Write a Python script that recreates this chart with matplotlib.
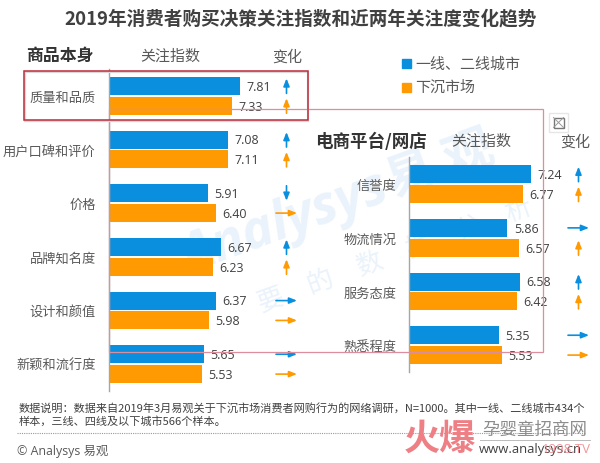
import matplotlib
matplotlib.use("Agg")
import matplotlib.pyplot as plt
from matplotlib.patches import Rectangle

plt.rcParams['font.family'] = ['Noto Sans CJK SC', 'DejaVu Sans']

product_cats = ['质量和品质', '用户口碑和评价', '价格', '品牌知名度', '设计和颜值', '新颖和流行度']
product_tier12 = [7.81, 7.08, 5.91, 6.67, 6.37, 5.65]
product_lower = [7.33, 7.11, 6.40, 6.23, 5.98, 5.53]
product_tier12_trend = ['up', 'up', 'down', 'up', 'flat', 'flat']
product_lower_trend = ['up', 'up', 'flat', 'up', 'flat', 'flat']

shop_cats = ['信誉度', '物流情况', '服务态度', '熟悉程度']
shop_tier12 = [7.24, 5.86, 6.58, 5.35]
shop_lower = [6.77, 6.57, 6.42, 5.53]
shop_tier12_trend = ['up', 'flat', 'up', 'flat']
shop_lower_trend = ['up', 'up', 'up', 'flat']

series_names = ['一线、二线城市', '下沉市场']
BLUE = '#0A8FDF'
ORANGE = '#FF9A02'
DARK = '#404040'
LABEL = '#595959'
LATIN = ['Open Sans', 'Noto Sans CJK SC']

W, H = 600, 464
fig = plt.figure(figsize=(W / 100, H / 100), dpi=100, facecolor='white')


def canvas(z):
    a = fig.add_axes([0, 0, 1, 1], zorder=z)
    a.set_xlim(0, W)
    a.set_ylim(H, 0)
    a.axis('off')
    a.patch.set_alpha(0)
    return a


ov = canvas(0)
top = canvas(5)

# faint background watermarks
wm = dict(color='#EAF3FB', rotation=20, ha='center', va='center')
ov.text(285, 225, 'Analysys', fontsize=38, fontweight='bold', style='italic',
        family=LATIN, **wm)
ov.text(440, 165, '易 观', fontsize=36, fontweight='bold', **wm)
ov.text(395, 255, '要\u3000的\u3000数\u3000据\u3000分\u3000析', fontsize=19, **wm)


def panel(left, y_top, y_bot, cats, a, b, ta, tb, arrow_x):
    ax = fig.add_axes([left / W, 1 - y_bot / H, 167.5 / W, (y_bot - y_top) / H], zorder=2)
    ax.patch.set_alpha(0)
    n = len(cats)
    ys = list(range(n))
    ax.barh([y - 0.185 for y in ys], a, height=0.335, color=BLUE)
    ax.barh([y + 0.185 for y in ys], b, height=0.335, color=ORANGE)
    ax.set_xlim(0, 10)
    ax.set_ylim(n - 0.5, -0.5)
    ax.set_yticks(ys, cats, fontsize=9.5, color=LABEL)
    ax.set_xticks([])
    ax.tick_params(axis='y', length=0, pad=9.5)
    for s in ['top', 'right', 'bottom']:
        ax.spines[s].set_visible(False)
    ax.spines['left'].set_color('#A6A6A6')
    ax.spines['left'].set_linewidth(1.0)
    for off, vals, trends, col in ((-0.185, a, ta, BLUE), (0.185, b, tb, ORANGE)):
        for y, v, t in zip(ys, vals, trends):
            yc = y + off
            ax.annotate(f'{v:.2f}', (v, yc), xytext=(4.6, -0.3), textcoords='offset points',
                        fontsize=8.9, family=LATIN, color=DARK,
                        va='center', ha='left', annotation_clip=False)
            if t == 'flat':
                s, e = (-10.5, 0), (10.5, 0)
            elif t == 'up':
                s, e = (0, -7.5), (0, 7.5)
            else:
                s, e = (0, 7.5), (0, -7.5)
            ax.annotate('', xy=(arrow_x + e[0] / 16.75, yc - e[1] / 53.7),
                        xytext=(arrow_x + s[0] / 16.75, yc - s[1] / 53.7),
                        arrowprops=dict(arrowstyle='-|>,head_width=0.18,head_length=0.45',
                                        color=col, lw=1.2, shrinkA=0, shrinkB=0),
                        annotation_clip=False)
    return ax


panel(109, 70, 392, product_cats, product_tier12, product_lower,
      product_tier12_trend, product_lower_trend, (286.5 - 109) / 16.75)
panel(409.3, 158.3, 373, shop_cats, shop_tier12, shop_lower,
      shop_tier12_trend, shop_lower_trend, (578.5 - 409.3) / 16.75)

# title and headers
ov.text(301, 19, '2019年消费者购买决策关注指数和近两年关注度变化趋势', fontsize=13.4, fontweight='bold',
        color=DARK, ha='center', va='center')
ov.text(26, 56, '商品本身', fontsize=12.2, fontweight='bold', color='#333333', va='center')
ov.text(140, 57, '关注指数', fontsize=10.8, color=LABEL, va='center')
ov.text(272, 57, '变化', fontsize=10.8, color=LABEL, va='center')
ov.text(315, 142, '电商平台/网店', fontsize=12.6, fontweight='bold', color='#333333', va='center')
ov.text(451, 142, '关注指数', fontsize=10.8, color=LABEL, va='center')
ov.text(560, 142, '变化', fontsize=10.8, color=LABEL, va='center')

# legend
for yy, col, name in zip((64.5, 88), (BLUE, ORANGE), series_names):
    ov.add_patch(Rectangle((402, yy - 4.5), 9, 9, color=col))
    ov.text(415, yy, name, fontsize=10.8, color=LABEL, va='center')

# frames
top.add_patch(Rectangle((109, 110), 434, 243, fill=False, ec='#DC8E9E', lw=0.9))
top.add_patch(Rectangle((25, 72.5), 283, 49.5, fill=False, ec='#D9D9D9', lw=1.6))
top.add_patch(Rectangle((24, 71.5), 284, 49.5, fill=False, ec='#BE2D3C', lw=1.1))

# picture icon
top.add_patch(Rectangle((549, 114), 19, 19, fc='white', ec='#E6E6E6', lw=1))
top.add_patch(Rectangle((553.5, 118.5), 10, 10, fill=False, ec='#777777', lw=1))
top.plot([553.5, 563.5], [128.5, 118.5], color='#999999', lw=0.7)
top.plot([553.5, 563.5], [118.5, 128.5], color='#999999', lw=0.7)

# footer
ov.text(19, 408, '数据说明\uff1a数据来自2019年3月易观关于下沉市场消费者网购行为的网络调研\uff0cN=1000。其中一线、二线城市434个',
        fontsize=8.0, color=DARK, va='center')
ov.text(19, 421, '样本\uff0c三线、四线及以下城市566个样本。', fontsize=8.0, color=DARK, va='center')
ov.plot([17, 585], [434, 434], color='#999999', lw=0.8, ls=(0, (1, 1)))
ov.text(17, 452, '© Analysys 易观', fontsize=8.9, family=LATIN, color=LABEL, va='center')

top.text(440, 439, '火爆', fontsize=26, fontweight='bold', color='#EE7F85', ha='center', va='center')
top.text(535, 430, '孕婴童招商网', fontsize=12.6, color='#8C8C8C', ha='center', va='center')
top.plot([480, 590], [441, 441], color='#BBBBBB', lw=0.7)
top.text(530, 450, 'www.analysys.cn', fontsize=9.4, family=LATIN,
         color='#404040', ha='center', va='center')
top.text(566, 450, '1998.TV', fontsize=9.5, family=LATIN, color='#EE7F85',
         alpha=0.8, ha='center', va='center')

fig.savefig('out.png', dpi=100)
